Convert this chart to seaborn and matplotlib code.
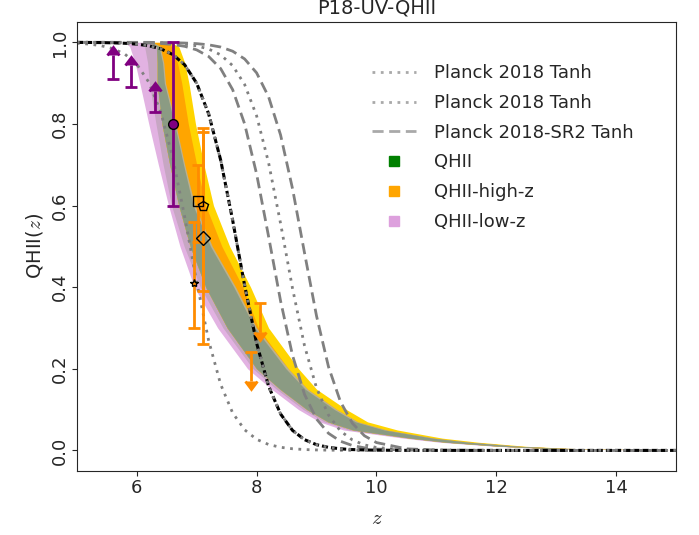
import matplotlib
matplotlib.use("Agg")
import matplotlib.pyplot as plt
from matplotlib.lines import Line2D
import pandas as pd
import seaborn as sns

# ---- tanh reionization histories, sampled in redshift ----
z_grid = [5.0, 5.2, 5.4, 5.6, 5.8, 6.0, 6.2, 6.4, 6.6, 6.8, 7.0, 7.2, 7.4, 7.6, 7.8,
          8.0, 8.2, 8.4, 8.6, 8.8, 9.0, 9.2, 9.4, 9.6, 9.8, 10.0, 10.5, 11.0, 12.0, 15.0]
q_planck_mid = [0.9998, 0.9997, 0.9994, 0.9988, 0.9977, 0.9956, 0.9916, 0.9842, 0.9702,
                0.9448, 0.8997, 0.8246, 0.7116, 0.5642, 0.4044, 0.2627, 0.1575, 0.0893,
                0.0489, 0.0263, 0.0140, 0.0074, 0.0039, 0.0020, 0.0011, 0.0006, 0.0001,
                0.0, 0.0, 0.0]
q_planck_lo = [0.9978, 0.9957, 0.9919, 0.9846, 0.9712, 0.9464, 0.9025, 0.8293, 0.7182,
               0.5721, 0.4122, 0.2689, 0.1618, 0.0919, 0.0505, 0.0271, 0.0144, 0.0076,
               0.0040, 0.0021, 0.0011, 0.0006, 0.0003, 0.0002, 0.0001, 0.0, 0.0, 0.0,
               0.0, 0.0]
q_planck_hi = [1.0, 1.0, 1.0, 1.0, 1.0, 0.9996, 0.9993, 0.9987, 0.9976, 0.9954, 0.9914,
               0.9836, 0.9693, 0.9430, 0.8967, 0.8199, 0.7050, 0.5562, 0.3967, 0.2565,
               0.1532, 0.0867, 0.0474, 0.0255, 0.0135, 0.0071, 0.0014, 0.0003, 0.0, 0.0]
q_sr2_lo = [1.0, 1.0, 1.0, 1.0, 0.9996, 0.9992, 0.9986, 0.9973, 0.9948, 0.9902, 0.9815,
            0.9653, 0.9356, 0.8841, 0.8002, 0.6774, 0.5242, 0.3663, 0.2326, 0.1372,
            0.0770, 0.0419, 0.0224, 0.0119, 0.0063, 0.0033, 0.0007, 0.0001, 0.0, 0.0]
q_sr2_hi = [1.0, 1.0, 1.0, 1.0, 1.0, 1.0, 1.0, 0.9995, 0.9991, 0.9983, 0.9968, 0.9939,
            0.9885, 0.9783, 0.9593, 0.9252, 0.8666, 0.7731, 0.6412, 0.4839, 0.3297,
            0.2050, 0.1192, 0.0663, 0.0359, 0.0192, 0.0039, 0.0008, 0.0, 0.0]

# ---- credible bands: redshift of each band edge at fixed Q_HII levels ----
q_levels = [1.0, 0.99, 0.95, 0.9, 0.8, 0.7, 0.6, 0.5, 0.4, 0.3, 0.2, 0.15,
            0.1, 0.07, 0.05, 0.03, 0.02, 0.01, 0.005, 0.0]
lowz_95_l = [5.8, 5.88, 5.97, 6.05, 6.2, 6.36, 6.53, 6.72, 6.96, 7.35, 7.85, 8.25,
             8.7, 9.05, 9.45, 10.45, 11.05, 12.0, 12.8, 15.0]
lowz_68_l = [6.03, 6.13, 6.18, 6.21, 6.32, 6.44, 6.58, 6.79, 7.06, 7.44, 7.94, 8.33,
             8.78, 9.13, 9.54, 10.52, 11.12, 12.05, 12.84, 15.0]
qhii_l = [6.21, 6.33, 6.34, 6.34, 6.42, 6.55, 6.70, 6.89, 7.15, 7.51, 8.0, 8.39,
          8.84, 9.19, 9.61, 10.57, 11.17, 12.09, 12.87, 15.0]
qhii_68_r = [6.25, 6.37, 6.43, 6.46, 6.63, 6.78, 6.94, 7.23, 7.62, 7.97, 8.49, 8.81,
             9.3, 9.65, 10.13, 10.94, 11.54, 12.38, 13.1, 15.0]
qhii_95_r = [6.27, 6.39, 6.45, 6.48, 6.65, 6.80, 6.97, 7.26, 7.65, 8.0, 8.53, 8.85,
             9.34, 9.69, 10.17, 10.97, 11.57, 12.4, 13.12, 15.0]
highz_68_r = [6.45, 6.59, 6.68, 6.75, 6.86, 7.0, 7.15, 7.42, 7.77, 8.03, 8.53, 8.85,
              9.34, 9.69, 10.17, 10.97, 11.57, 12.4, 13.12, 15.0]
highz_95_r = [6.55, 6.7, 6.8, 6.87, 6.98, 7.12, 7.28, 7.55, 7.9, 8.2, 8.7, 9.0,
              9.5, 9.85, 10.35, 11.1, 11.7, 12.5, 13.2, 15.0]

# ---- observational constraints ----
lya_lim_z = [5.6, 5.9, 6.3]
lya_lim_q = [0.91, 0.89, 0.83]
lya_lim_err = [0.06, 0.055, 0.05]
lae_z, lae_q, lae_err = 6.6, 0.80, 0.20
qso_z = [6.95, 7.02, 7.1, 7.1]
qso_q = [0.41, 0.61, 0.60, 0.52]
qso_err_lo = [0.11, 0.10, 0.21, 0.26]
qso_err_hi = [0.15, 0.09, 0.19, 0.26]
qso_marker = ["*", "s", "p", "D"]
up_z = [8.05, 7.9]
up_q = [0.36, 0.24]
up_err = [0.07, 0.07]

sns.set_style("ticks")
plt.rcParams["font.family"] = ["DejaVu Sans"]
plt.rcParams["mathtext.fontset"] = "cm"

fig = plt.figure(figsize=(6.99, 5.35), dpi=100)
ax = fig.add_axes([0.110, 0.120, 0.857, 0.839])


def band(left, right, color):
    ax.fill_betweenx(q_levels, left, right, color=color, lw=0)


# low-z run (pink), high-z run (orange/gold), combined run (green) on top
band(lowz_95_l, qhii_95_r, "#E2B2E2")
band(lowz_68_l, qhii_95_r, "#C7A6C3")
band(qhii_l, highz_95_r, "#FFD500")
band(qhii_l, highz_68_r, "#FFA500")
band(qhii_l, qhii_95_r, "#BDB18E")
band(qhii_l, qhii_68_r, "#8B9B83")

curves = pd.DataFrame({"z": z_grid, "mid": q_planck_mid, "lo": q_planck_lo,
                       "hi": q_planck_hi, "sr2_lo": q_sr2_lo, "sr2_hi": q_sr2_hi})

dotted = (0, (1, 2))
dashed = (0, (4, 2))
for col in ["lo", "hi"]:
    sns.lineplot(data=curves, x="z", y=col, ax=ax, color="gray", lw=2,
                 linestyle=dotted, estimator=None)
for col in ["sr2_lo", "sr2_hi"]:
    sns.lineplot(data=curves, x="z", y=col, ax=ax, color="gray", lw=2,
                 linestyle=dashed, estimator=None)
sns.lineplot(data=curves, x="z", y="mid", ax=ax, color="black", lw=2.2,
             linestyle=(0, (2, 1)), estimator=None)
sns.lineplot(data=curves, x="z", y="mid", ax=ax, color="gray", lw=2,
             linestyle=dotted, estimator=None)

# constraints
ax.errorbar(lya_lim_z, lya_lim_q, yerr=lya_lim_err, lolims=True, fmt="none",
            color="purple", ecolor="purple", elinewidth=2, capsize=4, capthick=2)
ax.errorbar([lae_z], [lae_q], yerr=[lae_err], fmt="o", color="purple",
            mec="black", ms=7, elinewidth=2, capsize=4, capthick=2)
for z, q, lo, hi, m in zip(qso_z, qso_q, qso_err_lo, qso_err_hi, qso_marker):
    ax.errorbar([z], [q], yerr=[[lo], [hi]], fmt=m, mfc="none", mec="black",
                ms=7 if m != "*" else 6, ecolor="darkorange", elinewidth=2,
                capsize=4, capthick=2)
ax.errorbar(up_z, up_q, yerr=up_err, uplims=True, fmt="none", color="darkorange",
            ecolor="darkorange", elinewidth=2, capsize=4, capthick=2)

ax.set_xlim(5, 15)
ax.set_ylim(-0.05, 1.05)
ax.set_xticks([6, 8, 10, 12, 14])
ax.set_yticks([0.0, 0.2, 0.4, 0.6, 0.8, 1.0])
ax.tick_params(labelsize=13, pad=2.5)
for t in ax.get_yticklabels():
    t.set_rotation(90)
    t.set_va("center")
ax.set_xlabel("$z$", fontsize=15, labelpad=8)
ax.set_ylabel("QHII($z$)", fontsize=14)
ax.set_title("P18-UV-QHII", fontsize=14, pad=6)

handles = [
    Line2D([], [], color="darkgray", lw=2, linestyle=dotted),
    Line2D([], [], color="darkgray", lw=2, linestyle=dotted),
    Line2D([], [], color="darkgray", lw=2, linestyle=dashed),
    Line2D([], [], color="green", marker="s", linestyle="none", ms=7.5),
    Line2D([], [], color="orange", marker="s", linestyle="none", ms=7.5),
    Line2D([], [], color="plum", marker="s", linestyle="none", ms=7.5),
]
labels = ["Planck 2018 Tanh", "Planck 2018 Tanh", "Planck 2018-SR2 Tanh",
          "QHII", "QHII-high-z", "QHII-low-z"]
ax.legend(handles, labels, loc="upper left", bbox_to_anchor=(0.481, 0.922),
          borderaxespad=0, frameon=False, fontsize=13, handlelength=2.4,
          handletextpad=1.0, labelspacing=0.65)

fig.savefig("out.png", dpi=100)
